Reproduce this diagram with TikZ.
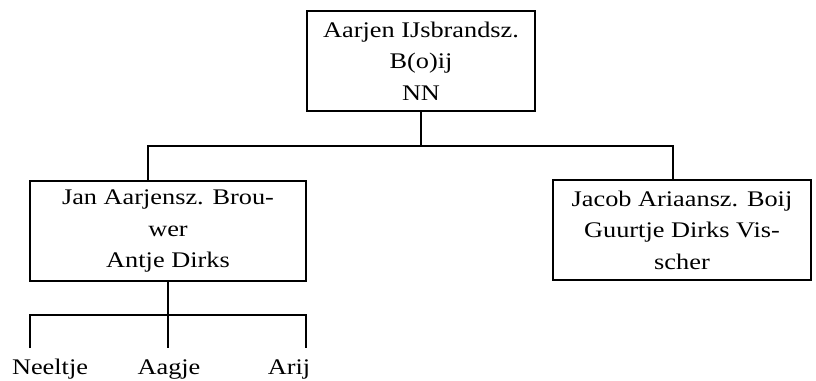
\documentclass[tikz,border=0pt]{standalone}
\usepackage{fontspec}
\setmainfont{Liberation Serif}[FakeStretch=1.18]
\usetikzlibrary{positioning}
\tikzset{
	person/.style={draw,line width=1.8pt,align=center,inner sep=0pt,font=\fontsize{22.3}{31.5}\selectfont},
	kid/.style={inner sep=0pt,anchor=base,font=\fontsize{22.3}{31.5}\selectfont}
}

\begin{document}
\begin{tikzpicture}[line join=miter,x=1pt,y=-1pt,line width=1.8pt]
		\useasboundingbox (0,0) rectangle (816,380);
		% families
		\node[person,minimum width=228,minimum height=100] (aarjen) at (421,61) {Aarjen IJsbrandsz.\\B(o)ij\\NN};
		\node[person,minimum width=276,minimum height=100] (jan) at (168,231) {Jan Aarjensz. Brou-\\wer\\Antje Dirks};
		\node[person,minimum width=258,minimum height=100] (jacob) at (682,230) {Jacob Ariaansz. Boij\\Guurtje Dirks Vis-\\scher};
		% children of Jan
		\node[kid] (neeltje) at (50,374) {Neeltje};
		\node[kid] (aagje) at (169,374) {Aagje};
		\node[kid] (arij) at (289,374) {Arij};
		% lines
		\coordinate (fork) at (421,146);
		\coordinate (fork2) at (168,315);
		\coordinate (n1) at (30,348);
		\coordinate (n2) at (168,348);
		\coordinate (n3) at (306,348);
		\draw (aarjen.south) -- (fork);
		\draw ([xshift=-20pt]jan.north) |- (fork) -| ([xshift=-9pt]jacob.north);
		\draw (jan.south) -- (fork2);
		\draw (n1) |- (fork2) -| (n3);
		\draw (fork2) -- (n2);
\end{tikzpicture}
\end{document}
